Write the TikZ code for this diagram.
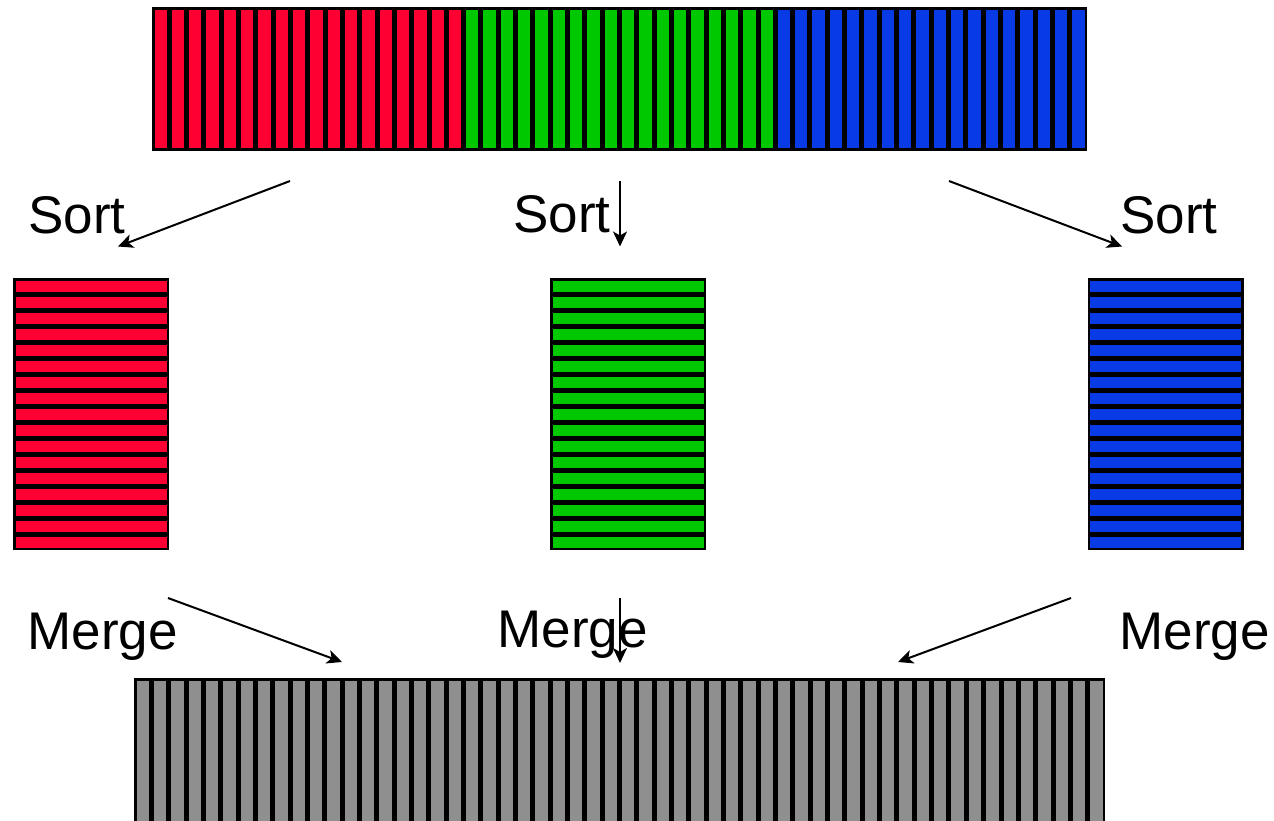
\documentclass[tikz,border=0pt]{standalone}
\usepackage{fontspec}
\setmainfont{Liberation Sans}
\usetikzlibrary{arrows.meta}
\definecolor{cellred}{RGB}{255,0,51}
\definecolor{cellgreen}{RGB}{0,200,0}
\definecolor{cellblue}{RGB}{8,58,230}
\definecolor{cellgray}{RGB}{143,143,143}
\tikzset{
  cell/.style={draw=black, line width=1.25pt},
  flow/.style={-{Stealth[length=7.5pt,width=7pt,inset=2pt]}, line width=1pt},
  steplabel/.style={font=\fontsize{26.5}{31}\selectfont, inner sep=0pt, anchor=base west},
}
\begin{document}
\begin{tikzpicture}[x=0.5pt, y=-0.5pt]
  \useasboundingbox (0,0) rectangle (1274,820);
  \clip (0,0) rectangle (1274,820);

  % unsorted input: 54 vertical cells, three colour runs
  \foreach \c/\s in {cellred/0, cellgreen/18, cellblue/36}{
    \foreach \i in {0,...,17}{
      \pgfmathsetmacro\xa{152+(\s+\i)*17.315}
      \draw[cell, fill=\c] (\xa+1.25, 8.25) rectangle (\xa+17.315-1.25, 149.45);
    }
  }

  % three sorted runs, 17 horizontal cells each
  \foreach \c/\xo in {cellred/13.3, cellgreen/550.2, cellblue/1087.5}{
    \foreach \j in {0,...,16}{
      \pgfmathsetmacro\ya{278.3+\j*16}
      \draw[cell, fill=\c] (\xo+1.25, \ya+1.25) rectangle (\xo+156-1.25, \ya+16-1.25);
    }
  }

  % merged output: 56 grey cells
  \foreach \i in {0,...,55}{
    \pgfmathsetmacro\xa{134+\i*17.34}
    \draw[cell, fill=cellgray] (\xa+1.25, 679.55) rectangle (\xa+17.34-1.25, 840);
  }

  % labels
  \node[steplabel] (sortL) at (28,233) {Sort};
  \node[steplabel] (sortM) at (513,232) {Sort};
  \node[steplabel] (sortR) at (1120,233) {Sort};
  \node[steplabel] (mergeL) at (27,649) {Merge};
  \node[steplabel] (mergeM) at (497,647) {Merge};
  \node[steplabel] (mergeR) at (1119,649) {Merge};

  % arrow end points
  \coordinate (s1a) at (290,181);  \coordinate (s1b) at (118,246.5);
  \coordinate (s2a) at (620,181);  \coordinate (s2b) at (620,246.5);
  \coordinate (s3a) at (949,181);  \coordinate (s3b) at (1122,246.5);
  \coordinate (m1a) at (168,598);  \coordinate (m1b) at (342,662);
  \coordinate (m2a) at (620,598);  \coordinate (m2b) at (620,663);
  \coordinate (m3a) at (1071,598); \coordinate (m3b) at (898,662);

  \draw[flow] (s1a) -- (s1b);
  \draw[flow] (s2a) -- (s2b);
  \draw[flow] (s3a) -- (s3b);
  \draw[flow] (m1a) -- (m1b);
  \draw[flow] (m2a) -- (m2b);
  \draw[flow] (m3a) -- (m3b);
\end{tikzpicture}
\end{document}
